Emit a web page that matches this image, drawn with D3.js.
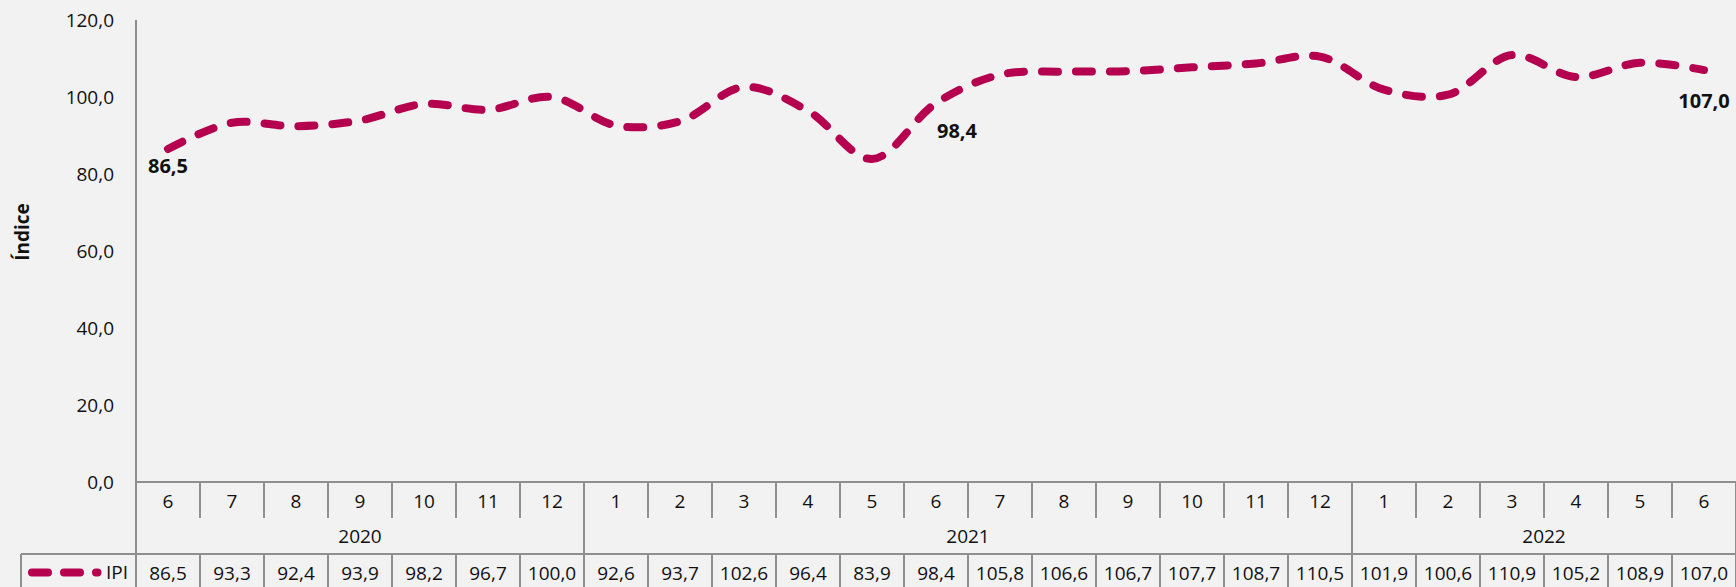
<!DOCTYPE html>
<html>
<head>
<meta charset="utf-8">
<script src="https://cdn.jsdelivr.net/npm/d3@7"></script>
<style>
  html, body { margin: 0; padding: 0; background: #F2F2F2; }
  svg { display: block; }
  text { font-family: "Open Sans", "Noto Sans", sans-serif; fill: #111; }
</style>
</head>
<body>
<svg id="chart" width="1736" height="587"></svg>
<script>
// Monthly industrial production index (IPI), June 2020 – June 2022
const months = ["6","7","8","9","10","11","12",
                "1","2","3","4","5","6","7","8","9","10","11","12",
                "1","2","3","4","5","6"];
const years = ["2020", "2021", "2022"];
const monthsPerYear = [7, 12, 6];
const ipi = [86.5, 93.3, 92.4, 93.9, 98.2, 96.7, 100.0,
             92.6, 93.7, 102.6, 96.4, 83.9, 98.4, 105.8, 106.6, 106.7, 107.7, 108.7, 110.5,
             101.9, 100.6, 110.9, 105.2, 108.9, 107.0];
const yTicks = [0, 20, 40, 60, 80, 100, 120];
const labelledIdx = [0, 12, 24];
const seriesName = "IPI";
const axisTitle = "Índice";

const W = 1736, H = 587;
const plotLeft = 136, plotRight = 1736, plotTop = 20, plotBottom = 482;
const monthRowBottom = 518, yearRowBottom = 554, legendLeft = 21;
const lineColor = "#B4004F", gridColor = "#8F8F8F";

const fmt = d3.formatLocale({ decimal: ",", thousands: ".", grouping: [3], currency: ["", ""] }).format(".1f");

const svg = d3.select("#chart");

const x = d3.scaleBand().domain(d3.range(months.length)).range([plotLeft, plotRight]).paddingInner(0).paddingOuter(0);
const y = d3.scaleLinear().domain([0, 120]).range([plotBottom, plotTop]);
const cx = i => x(i) + x.bandwidth() / 2;

// Y axis labels
const yAxis = d3.axisLeft(y).tickValues(yTicks).tickFormat(fmt).tickSize(0).tickPadding(22);
const gy = svg.append("g").attr("transform", `translate(${plotLeft},0)`).call(yAxis);
gy.select(".domain").remove();
gy.selectAll("text").style("font-size", "19px").attr("fill", "#111")
  .style("font-family", "'Open Sans', 'Noto Sans', sans-serif");

// Axis title
svg.append("text")
  .attr("transform", "translate(29,232) rotate(-90)")
  .attr("text-anchor", "middle")
  .style("font-size", "19px").style("font-weight", "700")
  .text(axisTitle);

// Table / axis grid lines
const grid = svg.append("g").attr("stroke", gridColor).attr("stroke-width", 2).attr("fill", "none");
grid.append("line").attr("x1", plotLeft).attr("x2", plotLeft).attr("y1", plotTop).attr("y2", H);
grid.append("line").attr("x1", plotLeft).attr("x2", plotRight).attr("y1", plotBottom).attr("y2", plotBottom);
grid.append("line").attr("x1", legendLeft).attr("x2", plotRight).attr("y1", yearRowBottom).attr("y2", yearRowBottom);
grid.append("line").attr("x1", legendLeft).attr("x2", legendLeft).attr("y1", yearRowBottom).attr("y2", H);

// boundaries where a new year starts
const yearStarts = new Set();
let acc = 0;
monthsPerYear.forEach(n => { acc += n; yearStarts.add(acc); });

d3.range(1, months.length + 1).forEach(i => {
  const bx = i < months.length ? x(i) : plotRight;
  const isYear = yearStarts.has(i);
  grid.append("line").attr("x1", bx).attr("x2", bx)
    .attr("y1", plotBottom).attr("y2", isYear ? yearRowBottom : monthRowBottom);
  grid.append("line").attr("x1", bx).attr("x2", bx)
    .attr("y1", yearRowBottom).attr("y2", H);
});

// Month labels
svg.append("g").selectAll("text").data(months).join("text")
  .attr("x", (d, i) => cx(i)).attr("y", 501)
  .attr("text-anchor", "middle").attr("dominant-baseline", "central")
  .style("font-size", "19px").text(d => d);

// Year labels centred under their months
let start = 0;
const yearPos = monthsPerYear.map(n => {
  const a = x(start), b = (start + n < months.length) ? x(start + n) : plotRight;
  start += n;
  return (a + b) / 2;
});
svg.append("g").selectAll("text").data(years).join("text")
  .attr("x", (d, i) => yearPos[i]).attr("y", 536)
  .attr("text-anchor", "middle").attr("dominant-baseline", "central")
  .style("font-size", "19px").text(d => d);

// Data row values
svg.append("g").selectAll("text").data(ipi).join("text")
  .attr("x", (d, i) => cx(i)).attr("y", 573)
  .attr("text-anchor", "middle").attr("dominant-baseline", "central")
  .style("font-size", "19px").text(d => fmt(d));

// Legend key in the data row
svg.append("path")
  .attr("d", d3.line()([[32, 572.5], [97.5, 572.5]]))
  .attr("stroke", lineColor).attr("stroke-width", 8).attr("stroke-linecap", "round")
  .attr("stroke-dasharray", "16,16").attr("fill", "none");
svg.append("text").attr("x", 128).attr("y", 572).attr("text-anchor", "end")
  .attr("dominant-baseline", "central").style("font-size", "19px").text(seriesName);

// Smoothed dashed series line
const line = d3.line().x((d, i) => cx(i)).y(d => y(d)).curve(d3.curveCatmullRom.alpha(0.5));
svg.append("path").datum(ipi)
  .attr("d", line)
  .attr("fill", "none").attr("stroke", lineColor).attr("stroke-width", 8)
  .attr("stroke-linecap", "round").attr("stroke-dasharray", "16,18");

// Value labels for selected months
const labelOffset = { 0: [0, 17], 12: [21, 27], 24: [0, 30] };
svg.append("g").selectAll("text").data(labelledIdx).join("text")
  .attr("x", i => cx(i) + labelOffset[i][0])
  .attr("y", i => y(ipi[i]) + labelOffset[i][1])
  .attr("text-anchor", "middle").attr("dominant-baseline", "central")
  .style("font-size", "20px").style("font-weight", "700")
  .text(i => fmt(ipi[i]));
</script>
</body>
</html>
